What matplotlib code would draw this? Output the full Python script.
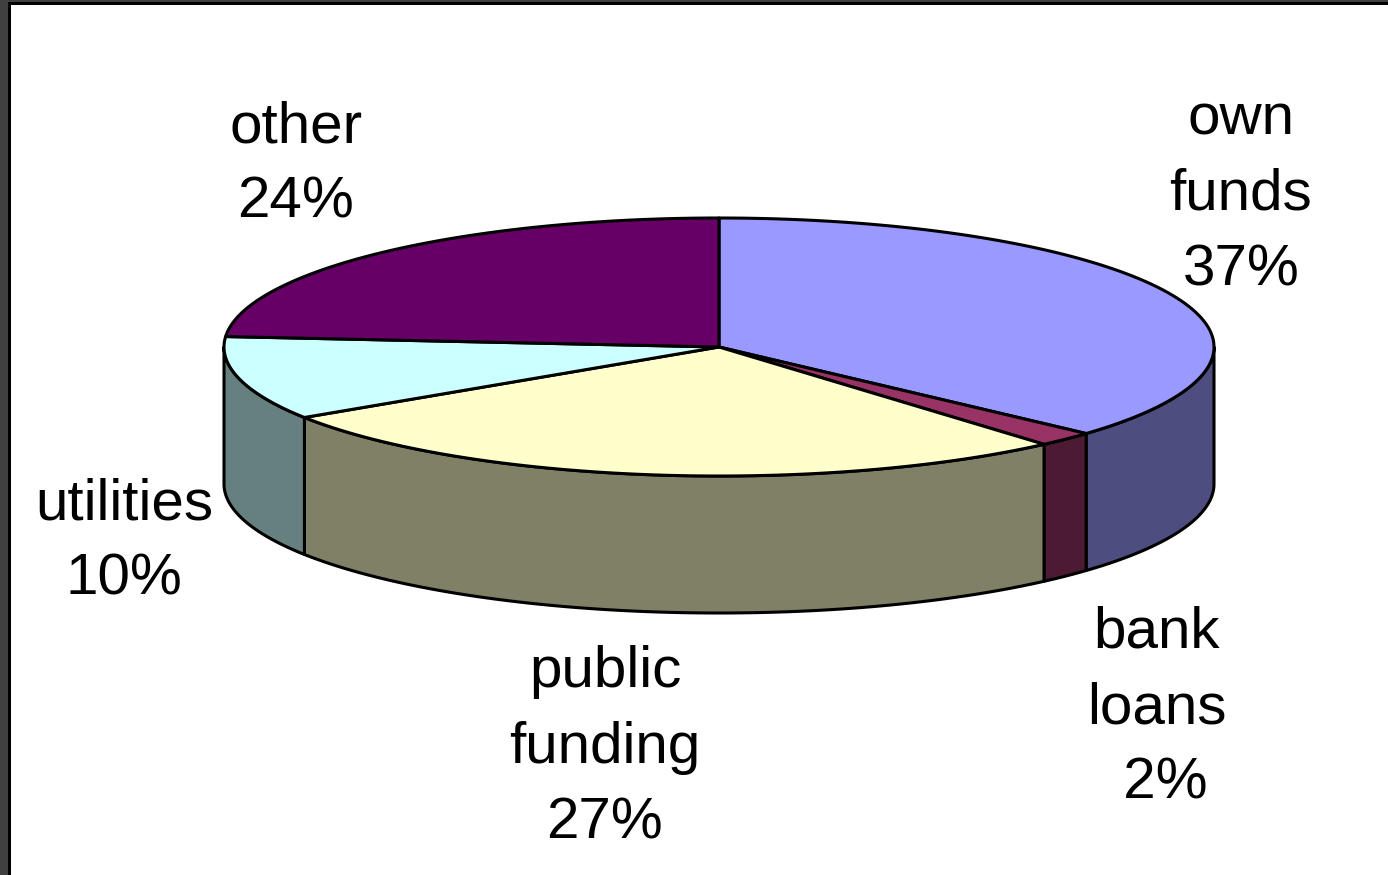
import matplotlib
matplotlib.use('Agg')
import matplotlib.pyplot as plt
import numpy as np

# labels round them to the printed percentages
categories = ['own\nfunds', 'bank\nloans', 'public\nfunding', 'utilities', 'other']
shares = [36.7, 1.9, 27.2, 10.49, 23.71]
top_colors = ['#9999FF', '#993366', '#FFFFCC', '#CCFFFF', '#660066']
side_colors = ['#4D4D80', '#4D1A33', '#808066', '#668080', '#330033']
label_pos = [(1241, 195), (1157, 708), (605, 748), (124, 542), (296, 165)]
pct_prefix = ['', ' ', '', '', '']

plt.rcParams['font.family'] = ['Liberation Sans', 'DejaVu Sans']

cx, cy = 719, 347
rx, ry = 495, 129
depth = 137
lw = 2.2


def ellipse(t):
    return cx + rx * np.sin(t), cy - ry * np.cos(t)


fig = plt.figure(figsize=(13.88, 8.75), dpi=100)
ax = fig.add_axes([0, 0, 1, 1])
ax.set_xlim(0, 1388)
ax.set_ylim(875, 0)
ax.axis('off')

# window frame
ax.fill([0, 8, 8, 1388, 1388, 0], [875, 875, 2, 2, 0, 0], color='#404040', lw=0)
ax.fill([8, 11, 11, 1388, 1388, 8], [875, 875, 5, 5, 2, 2], color='black', lw=0)

edges = np.radians(np.concatenate([[0], np.cumsum(shares)]) * 3.6)

# side walls, only the front half of the rim shows
for i in range(len(shares)):
    a = max(edges[i], np.pi / 2)
    b = min(edges[i + 1], 3 * np.pi / 2)
    if a >= b:
        continue
    t = np.linspace(a, b, 100)
    x, y = ellipse(t)
    ax.fill(np.r_[x, x[::-1]], np.r_[y, y[::-1] + depth],
            facecolor=side_colors[i], edgecolor='black', lw=lw, joinstyle='round', zorder=2)

# top slices
for i in range(len(shares)):
    t = np.linspace(edges[i], edges[i + 1], 200)
    x, y = ellipse(t)
    ax.fill(np.r_[cx, x], np.r_[cy, y],
            facecolor=top_colors[i], edgecolor='black', lw=lw, joinstyle='round', zorder=3)

for name, share, prefix, (lx, ly) in zip(categories, shares, pct_prefix, label_pos):
    ax.text(lx, ly, f'{name}\n{prefix}{share:.0f}%', ha='center', va='center',
            fontsize=42, linespacing=1.52, color='black', zorder=4)

fig.savefig('out.png', dpi=100)
